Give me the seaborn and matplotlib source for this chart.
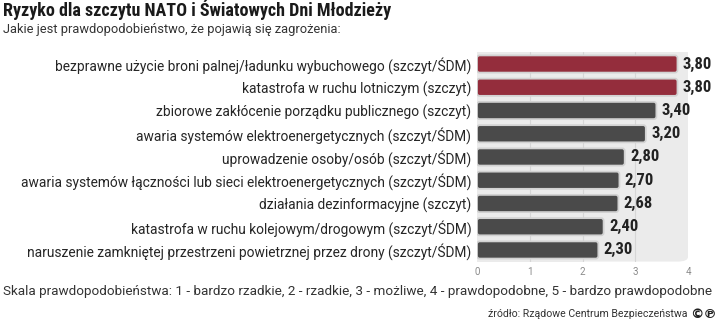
import matplotlib
matplotlib.use("Agg")
import matplotlib.pyplot as plt
from matplotlib import font_manager
import seaborn as sns
import pandas as pd
from matplotlib.patches import FancyBboxPatch

categories = [
    "bezprawne użycie broni palnej/ładunku wybuchowego (szczyt/ŚDM)",
    "katastrofa w ruchu lotniczym (szczyt)",
    "zbiorowe zakłócenie porządku publicznego (szczyt)",
    "awaria systemów elektroenergetycznych (szczyt/ŚDM)",
    "uprowadzenie osoby/osób (szczyt/ŚDM)",
    "awaria systemów łączności lub sieci elektroenergetycznych (szczyt/ŚDM)",
    "działania dezinformacyjne (szczyt)",
    "katastrofa w ruchu kolejowym/drogowym (szczyt/ŚDM)",
    "naruszenie zamkniętej przestrzeni powietrznej przez drony (szczyt/ŚDM)",
]
values = [3.80, 3.80, 3.40, 3.20, 2.80, 2.70, 2.68, 2.40, 2.30]
highlight = [True, True, False, False, False, False, False, False, False]
xticks = [0, 1, 2, 3, 4]

title = "Ryzyko dla szczytu NATO i Światowych Dni Młodzieży"
subtitle = "Jakie jest prawdopodobieństwo, że pojawią się zagrożenia:"
scale_note = ("Skala prawdopodobieństwa: 1 - bardzo rzadkie, 2 - rzadkie, 3 - możliwe, "
              "4 - prawdopodobne, 5 - bardzo prawdopodobne")
source = "źródło: Rządowe Centrum Bezpieczeństwa"

RED = "#a51c30"
DARK = "#4a4a4a"
PANEL = "#ebebeb"


def pick_condensed():
    entries = font_manager.fontManager.ttflist
    for key in ("Roboto Condensed", "Liberation Sans Narrow", "Open Sans Condensed",
                "Noto Sans Condensed", "DejaVu Sans Condensed"):
        for f in entries:
            if f.name == key:
                return {"family": [f.name, "DejaVu Sans"]}
    for f in entries:
        if "Narrow" in f.name or "Condensed" in f.name:
            return {"family": [f.name, "DejaVu Sans"]}
    for pref in ("Roboto", "Open Sans", "Noto Sans", "Liberation Sans", "DejaVu Sans"):
        for f in entries:
            if f.name == pref and f.stretch in ("condensed", "semi-condensed"):
                return {"family": [f.name, "DejaVu Sans"], "fontstretch": f.stretch}
    return None


cond = pick_condensed()

sns.set_style("white")
plt.rcParams["font.family"] = ["Roboto", "DejaVu Sans"]

df = pd.DataFrame({"cat": categories, "val": values,
                   "grp": ["hi" if h else "lo" for h in highlight]})

fig = plt.figure(figsize=(7.2, 3.22), dpi=100)
ax = fig.add_axes([0.6625, 0.1876, 0.2931, 0.6497])
ax.set_facecolor("none")

sns.barplot(data=df, y="cat", x="val", hue="grp", palette={"hi": RED, "lo": DARK},
            dodge=False, legend=False, width=0.74, ax=ax, orient="h", zorder=3)

ax.set_xlim(0, 4)
ax.set_ylim(8.5, -0.5)

panel = FancyBboxPatch((0, 0), 1, 1, transform=ax.transAxes,
                       boxstyle="round,pad=0,rounding_size=0.05",
                       mutation_aspect=0.45,
                       facecolor=PANEL, edgecolor="none", zorder=0)
ax.add_patch(panel)
ax.add_patch(plt.Rectangle((0, 0), 0.5, 1, transform=ax.transAxes,
                           facecolor=PANEL, edgecolor="none", zorder=0))
ax.add_patch(plt.Rectangle((0, 0.5), 1, 0.5, transform=ax.transAxes,
                           facecolor=PANEL, edgecolor="none", zorder=0))

for xv in xticks[1:-1]:
    ax.axvline(xv, color="#d6d6d6", lw=0.8, zorder=1)

for p in list(ax.patches):
    if not isinstance(p, plt.Rectangle) or p.get_zorder() != 3:
        continue
    x, y = p.get_x(), p.get_y()
    w, h = p.get_width(), p.get_height()
    fc = p.get_facecolor()
    p.set_visible(False)
    rb = FancyBboxPatch((x, y), w, h,
                        boxstyle="round,pad=0,rounding_size=0.05",
                        mutation_aspect=2.3,
                        facecolor=fc, edgecolor="#d2d2d2", lw=1.3, zorder=4)
    ax.add_patch(rb)

if cond:
    val_kw = dict(cond, fontsize=12)
    title_kw = dict(cond, fontsize=13)
else:
    val_kw = dict(family=["Roboto", "DejaVu Sans"], fontsize=11)
    title_kw = dict(family=["Roboto", "DejaVu Sans"], fontsize=12)

for i, v in enumerate(values):
    ax.text(v + 0.1, i, f"{v:.2f}".replace(".", ","), va="center", ha="left",
            fontweight="bold", color="#222222", zorder=5, **val_kw)

ax.set_xticks(xticks)
ax.set_xticklabels([str(t) for t in xticks])
ax.tick_params(axis="x", length=0, pad=4, labelsize=7, labelcolor="#8a8a8a")
ax.tick_params(axis="y", length=0, pad=4, labelsize=9.9, labelcolor="#262626")
ax.set_xlabel("")
ax.set_ylabel("")
for s in ax.spines.values():
    s.set_visible(False)

fig.text(0.004, 1 - 16 / 322, title, ha="left", va="baseline", fontweight="bold",
         color="#1a1a1a", **title_kw)
fig.text(0.004, 1 - 33 / 322, subtitle, ha="left", va="baseline", fontsize=9.3,
         color="#333333")
fig.text(0.004, 1 - 291 / 322, scale_note, ha="left", va="center", fontsize=9.7,
         color="#333333")
fig.text(0.955, 1 - 314 / 322, source, ha="right", va="center", fontsize=7.6,
         color="#333333")
fig.text(0.995, 1 - 314 / 322, "©℗", ha="right", va="center", fontsize=9.5,
         color="#222222", fontweight="bold", family=["DejaVu Sans"])

fig.savefig("out.png", dpi=100)
